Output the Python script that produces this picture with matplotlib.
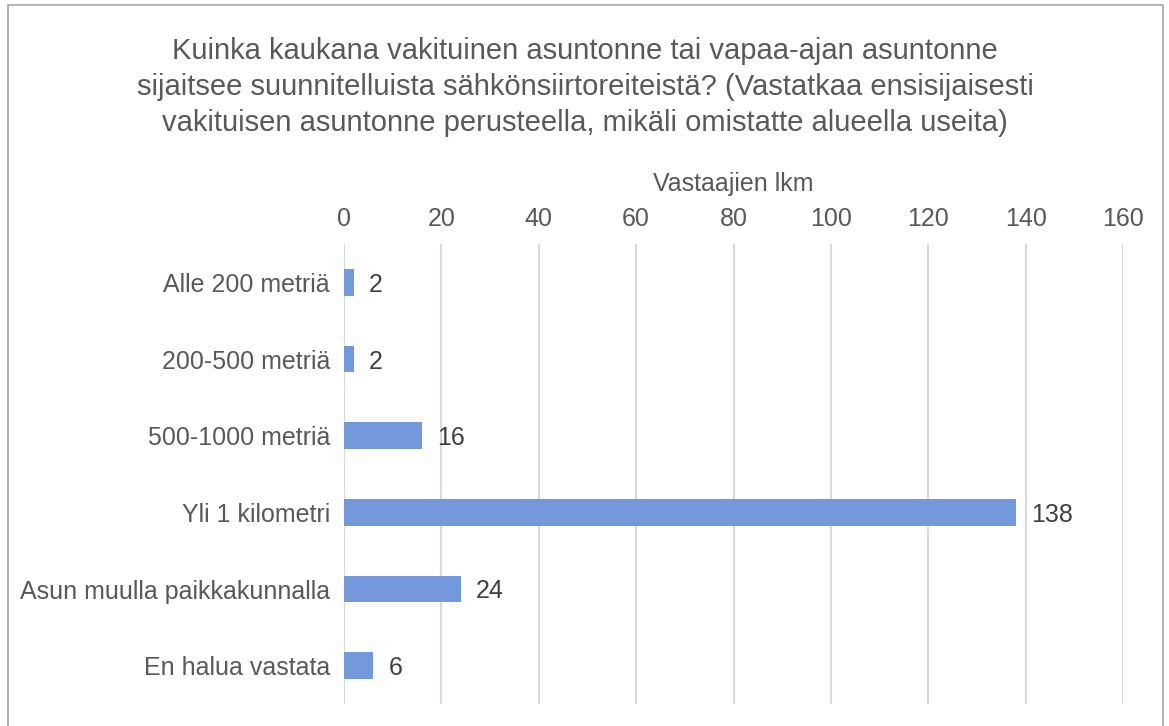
import matplotlib.pyplot as plt
from matplotlib.patches import Rectangle

categories = ['Alle 200 metriä', '200-500 metriä', '500-1000 metriä',
              'Yli 1 kilometri', 'Asun muulla paikkakunnalla', 'En halua vastata']
values = [2, 2, 16, 138, 24, 6]
xticks = [0, 20, 40, 60, 80, 100, 120, 140, 160]

title = ('Kuinka kaukana vakituinen asuntonne tai vapaa-ajan asuntonne\n'
         'sijaitsee suunnitelluista sähkönsiirtoreiteistä? (Vastatkaa ensisijaisesti\n'
         'vakituisen asuntonne perusteella, mikäli omistatte alueella useita)')

plt.rcParams['font.family'] = ['Liberation Sans', 'DejaVu Sans']
gray = '#595959'

W, H = 1169, 726
fig = plt.figure(figsize=(W / 100, H / 100), dpi=100)
ax = fig.add_axes([344 / W, 1 - 704 / H, (1123 - 344) / W, (704 - 244) / H])

pos = list(range(len(categories)))
ax.barh(pos, values, height=0.35, color='#7399DC', zorder=3)
for p, v in zip(pos, values):
    ax.text(v + 3.1, p, str(v), va='center_baseline', ha='left', fontsize=18, color='#404040')

ax.set_ylim(len(categories) - 0.5, -0.5)
ax.set_yticks(pos)
ax.set_yticklabels(categories, fontsize=18, color=gray)
ax.set_xlim(0, 160)
ax.set_xticks(xticks)
ax.set_xticklabels([str(t) for t in xticks], fontsize=18, color=gray)
ax.xaxis.tick_top()
ax.xaxis.set_label_position('top')
ax.set_xlabel('Vastaajien lkm', fontsize=18, color=gray, labelpad=11.5)
ax.tick_params(axis='x', length=0, pad=9.5)
ax.tick_params(axis='y', length=0, pad=10)
ax.grid(axis='x', color='#d9d9d9', linewidth=1.5, zorder=0)
for s in ax.spines.values():
    s.set_visible(False)

fig.text(585 / W, 1 - 87 / H, title, ha='center', va='center', fontsize=21,
         color=gray, linespacing=1.35)

fig.patches.append(Rectangle((8 / W, -0.1), (1163 - 8) / W, 1.1 - 5 / H,
                             transform=fig.transFigure, fill=False,
                             edgecolor='#a6a6a6', linewidth=1.2))

fig.savefig('out.png', dpi=100)
